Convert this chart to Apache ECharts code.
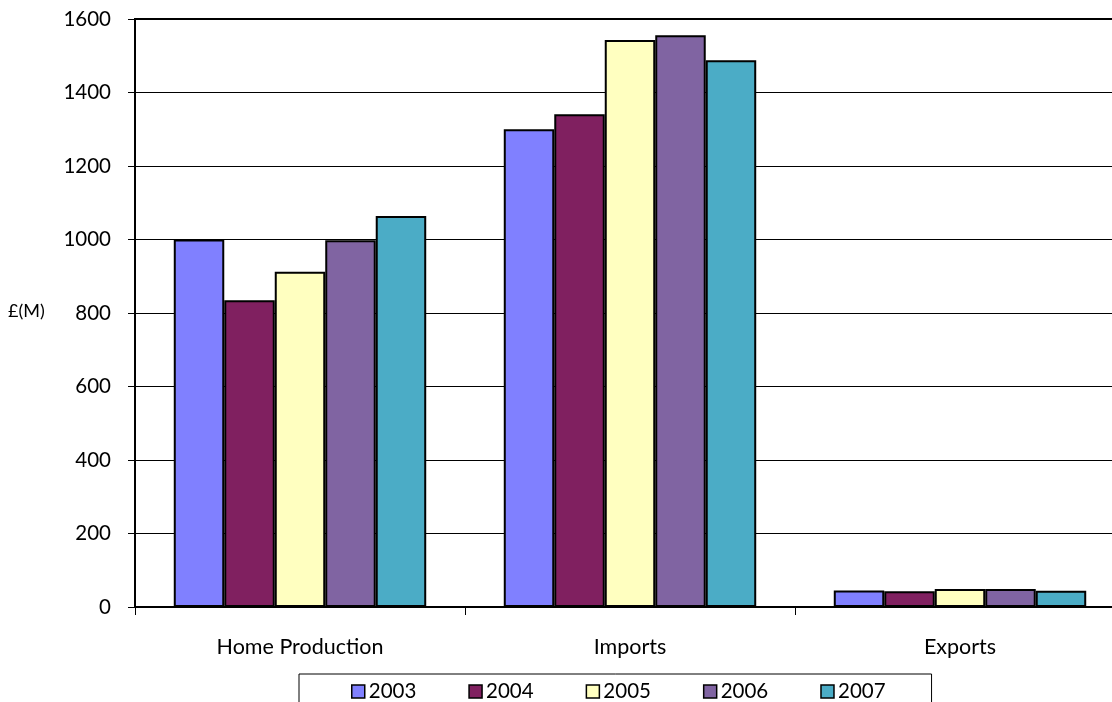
<!DOCTYPE html>
<html>
<head>
<meta charset="utf-8">
<script src="https://cdn.jsdelivr.net/npm/echarts@6/dist/echarts.min.js"></script>
<style>
  html, body { margin: 0; padding: 0; background: #fff; }
  #chart { width: 1112px; height: 702px; }
</style>
</head>
<body>
<div id="chart"></div>
<script>
// Categories and yearly values (£ millions)
const categories = ['Home Production', 'Imports', 'Exports'];
const years = ['2003', '2004', '2005', '2006', '2007'];
const values2003 = [1000, 1300, 45];
const values2004 = [835, 1341, 43];
const values2005 = [912, 1543, 49];
const values2006 = [998, 1556, 49];
const values2007 = [1064, 1488, 44];
const yTicks = { min: 0, max: 1600, interval: 200 };
const colors = ['#8080FF', '#802060', '#FFFFC0', '#8064A2', '#4BACC6'];

const seriesValues = [values2003, values2004, values2005, values2006, values2007];
const font = 'Lato, "Open Sans", sans-serif';

const chart = echarts.init(document.getElementById('chart'), null, { renderer: 'canvas' });

chart.setOption({
  animation: false,
  textStyle: { fontFamily: font, color: '#000' },
  // plot area runs past the right edge of the canvas
  grid: {
    left: 135, top: 19, height: 588, width: 990,
    outerBoundsMode: 'none',
    containLabel: false,
    show: true, borderColor: '#000', borderWidth: 2, backgroundColor: 'transparent'
  },
  legend: {
    data: years,
    left: 299, top: 674,
    orient: 'horizontal',
    padding: [7, 46, 30, 52],
    itemGap: 52,
    itemWidth: 13, itemHeight: 13,
    icon: 'rect',
    borderColor: '#000', borderWidth: 1,
    textStyle: { fontFamily: font, fontSize: 20.5, color: '#000', padding: [0, 0, 0, -1] },
    itemStyle: { borderColor: '#000', borderWidth: 1.5 }
  },
  graphic: [{
    type: 'text', left: 8, top: 302,
    style: { text: '£(M)', font: '18px ' + font, fill: '#000' }
  }],
  xAxis: {
    type: 'category',
    data: categories,
    axisLine: { lineStyle: { color: '#000', width: 2 } },
    axisTick: { show: true, alignWithLabel: false, length: 8, lineStyle: { color: '#000', width: 1 } },
    axisLabel: { fontSize: 21.5, color: '#000', margin: 29, fontFamily: font }
  },
  yAxis: {
    type: 'value',
    min: yTicks.min, max: yTicks.max, interval: yTicks.interval,
    axisLine: { show: true, lineStyle: { color: '#000', width: 2 } },
    axisTick: { show: true, length: 7, lineStyle: { color: '#000', width: 1 } },
    axisLabel: { fontSize: 20.5, color: '#000', margin: 24, fontFamily: font,
                 formatter: v => String(v) },
    splitLine: { show: true, lineStyle: { color: '#000', width: 1 } }
  },
  series: years.map((y, i) => ({
    name: y,
    type: 'bar',
    data: seriesValues[i],
    barGap: '0%',
    barCategoryGap: '23.5%',
    itemStyle: { color: colors[i], borderColor: '#000', borderWidth: 2 }
  }))
});
</script>
</body>
</html>
